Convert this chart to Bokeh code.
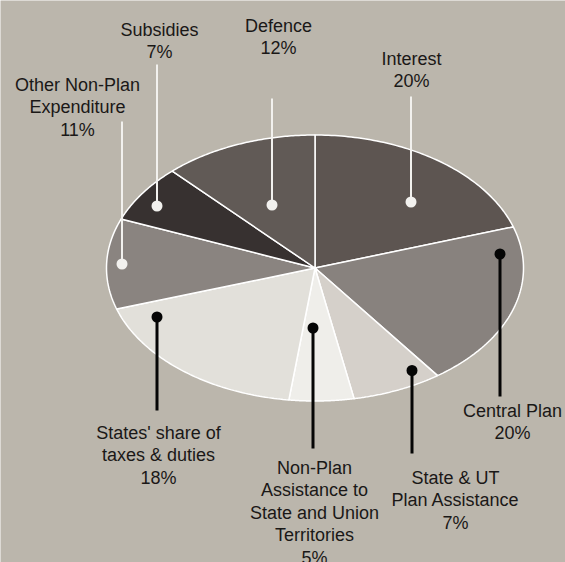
import numpy as np
from bokeh.plotting import figure
from bokeh.models import Range1d, ColumnDataSource
from bokeh.embed import file_html
from bokeh.resources import INLINE
from bokeh.core.properties import value

# ---------------- data ----------------
categories = [
    "Interest",
    "Central Plan",
    "State & UT Plan Assistance",
    "Non-Plan Assistance to State and Union Territories",
    "States' share of taxes & duties",
    "Other Non-Plan Expenditure",
    "Subsidies",
    "Defence",
]
shares = [20, 20, 7, 5, 18, 11, 7, 12]
label_names = [
    ["Interest"],
    ["Central Plan"],
    ["State & UT", "Plan Assistance"],
    ["Non-Plan", "Assistance to", "State and Union", "Territories"],
    ["States' share of", "taxes & duties"],
    ["Other Non-Plan", "Expenditure"],
    ["Subsidies"],
    ["Defence"],
]

# ---------------- styles / layout ----------------
colors = ["#5d5551", "#88827e", "#d5d0ca", "#efeeea",
          "#e2e0da", "#8a8480", "#373130", "#615a56"]
BG = "#bbb6ac"
CX, CY, RX, RY = 314.5, 267.5, 208.5, 133.0
# leader: dot (x, y), end of line y, label centre (x, first line y), light/dark
dot_xy = [(410.5, 201.5), (499.5, 253.5), (411.5, 370), (312.5, 327.5),
          (156.5, 316.5), (121.5, 263.5), (156.5, 205.5), (271.5, 204.5)]
line_end_y = [96, 396, 453, 448, 410, 121, 64, 98]
label_xy = [(411, 58), (512, 410), (455, 477), (314, 467),
            (158, 432), (77, 84), (159, 29), (278, 25)]
light = [True, False, False, False, False, True, True, True]
LINE_H = 22.5

p = figure(width=565, height=562, x_range=Range1d(0, 565), y_range=Range1d(562, 0),
           output_backend="svg", toolbar_location=None, min_border=0,
           background_fill_color=BG, border_fill_color=BG, outline_line_color=None)
p.axis.visible = False
p.grid.visible = False

# slices as elliptical wedges
fr = np.cumsum([0] + shares) / float(sum(shares))
xs, ys = [], []
for i in range(len(shares)):
    t = np.linspace(fr[i], fr[i + 1], 80) * 2 * np.pi
    xs.append([CX] + list(CX + RX * np.sin(t)) + [CX])
    ys.append([CY] + list(CY - RY * np.cos(t)) + [CY])
p.patches(xs, ys, fill_color=colors, line_color="white", line_width=1.5)

# leader lines and dots
for i in range(len(shares)):
    c = "#f2f1ee" if light[i] else "#050505"
    w = 2 if light[i] else 3
    p.segment(x0=[dot_xy[i][0]], y0=[dot_xy[i][1]], x1=[dot_xy[i][0]], y1=[line_end_y[i]],
              line_color=c, line_width=w)
    p.circle(x=[dot_xy[i][0]], y=[dot_xy[i][1]], radius=5.5, fill_color=c, line_color=None)

# labels
tx, ty, tt = [], [], []
for i in range(len(shares)):
    lines = label_names[i] + [f"{shares[i]}%"]
    for k, s in enumerate(lines):
        tx.append(label_xy[i][0])
        ty.append(label_xy[i][1] + k * LINE_H)
        tt.append(s)
p.text(x=tx, y=ty, text=tt, text_align="center", text_baseline="middle",
       text_font=value("Liberation Sans"), text_font_size="18px", text_color="#1a1817")

open("out.html", "w").write(file_html(p, INLINE))
